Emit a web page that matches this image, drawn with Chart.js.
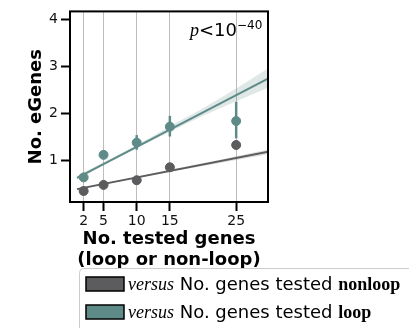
<!DOCTYPE html>
<html>
<head>
<meta charset="utf-8">
<script src="https://cdn.jsdelivr.net/npm/chart.js@4.4.1/dist/chart.umd.min.js"></script>
<style>
  html, body { margin: 0; padding: 0; background: #fff; }
</style>
</head>
<body>
<canvas id="chart" width="409" height="328"></canvas>
<script>
// tested genes per bin (x) and mean eGenes with 95% CI
const geneCounts = [2, 5, 10, 15, 25];
const loopMean = [0.63, 1.11, 1.37, 1.71, 1.83];
const loopLow = [0.58, 1.05, 1.22, 1.50, 1.46];
const loopHigh = [0.68, 1.17, 1.53, 1.94, 2.24];
const nonloopMean = [0.34, 0.47, 0.57, 0.845, 1.32];
const nonloopLow = [0.31, 0.44, 0.54, 0.81, 1.27];
const nonloopHigh = [0.37, 0.50, 0.60, 0.88, 1.37];

// regression fits
const fitX = [1, 30];
const loopFit = [0.62, 2.75];
const nonloopFit = [0.38, 1.18];
const bandX = [1, 5, 10, 15, 20, 25, 30];
const loopBandLow = [0.58, 0.89, 1.25, 1.60, 1.94, 2.25, 2.55];
const loopBandHigh = [0.66, 0.95, 1.32, 1.72, 2.10, 2.52, 2.97];
const nonloopBandLow = [0.36, 0.475, 0.615, 0.75, 0.87, 1.00, 1.13];
const nonloopBandHigh = [0.40, 0.505, 0.645, 0.79, 0.93, 1.08, 1.23];

const yTicks = [1, 2, 3, 4];
const legendNames = ["nonloop", "loop"];

const teal = "#5e8b88";
const gray = "#5c5b5d";

const pts = (xs, ys) => xs.map((v, i) => ({ x: v, y: ys[i] }));

const extras = {
  id: "extras",
  beforeDatasetsDraw(chart) {
    const { ctx, scales: { x, y } } = chart;
    ctx.save();
    ctx.lineWidth = 2.5;
    [[nonloopLow, nonloopHigh, gray], [loopLow, loopHigh, teal]].forEach(([lo, hi, c]) => {
      ctx.strokeStyle = c;
      geneCounts.forEach((g, i) => {
        const px = x.getPixelForValue(g);
        ctx.beginPath();
        ctx.moveTo(px, y.getPixelForValue(lo[i]));
        ctx.lineTo(px, y.getPixelForValue(hi[i]));
        ctx.stroke();
      });
    });
    ctx.restore();
  },
  afterDraw(chart) {
    const { ctx, chartArea: a } = chart;
    ctx.save();
    ctx.strokeStyle = "#000";
    ctx.lineWidth = 2;
    ctx.strokeRect(a.left, a.top, a.right - a.left, a.bottom - a.top);

    // p-value note
    ctx.fillStyle = "#000";
    ctx.textBaseline = "alphabetic";
    ctx.font = 'italic 18px "Liberation Serif"';
    ctx.fillText("p", 190, 36);
    ctx.font = '18px "DejaVu Sans"';
    ctx.fillText("<", 199, 36);
    ctx.fillText("10", 214, 36);
    ctx.font = '12px "DejaVu Sans"';
    ctx.fillText("\u221240", 237, 29);

    // legend
    ctx.beginPath();
    ctx.roundRect(79.5, 268.5, 345, 70, 4);
    ctx.fillStyle = "rgba(255,255,255,0.9)";
    ctx.fill();
    ctx.strokeStyle = "#cccccc";
    ctx.lineWidth = 1;
    ctx.stroke();
    [[gray, 277, 290], [teal, 305, 318]].forEach(([c, top, base], i) => {
      ctx.fillStyle = c;
      ctx.fillRect(86, top, 38, 14);
      ctx.strokeStyle = "#000";
      ctx.lineWidth = 1.5;
      ctx.strokeRect(86, top, 38, 14);
      ctx.fillStyle = "#000";
      let tx = 128;
      ctx.font = 'italic 18px "Liberation Serif"';
      ctx.fillText("versus", tx, base);
      tx += ctx.measureText("versus").width;
      ctx.font = '18px "DejaVu Sans"';
      const mid = " No. genes tested ";
      ctx.fillText(mid, tx, base);
      tx += ctx.measureText(mid).width;
      ctx.font = 'bold 18px "Liberation Serif"';
      ctx.fillText(legendNames[i], tx, base);
    });
    ctx.restore();
  }
};

new Chart(document.getElementById("chart"), {
  type: "scatter",
  data: {
    datasets: [
      { data: pts(geneCounts, loopMean), backgroundColor: teal, borderColor: teal, pointRadius: 4.5, order: 0 },
      { data: pts(geneCounts, nonloopMean), backgroundColor: gray, borderColor: gray, pointRadius: 4.5, order: 0 },
      { data: pts(fitX, loopFit), showLine: true, borderColor: teal, borderWidth: 2, pointRadius: 0, order: 1 },
      { data: pts(fitX, nonloopFit), showLine: true, borderColor: gray, borderWidth: 2, pointRadius: 0, order: 1 },
      { data: pts(bandX, loopBandLow), showLine: true, borderWidth: 0, pointRadius: 0, order: 2 },
      { data: pts(bandX, loopBandHigh), showLine: true, borderWidth: 0, pointRadius: 0, fill: "-1",
        backgroundColor: "rgba(94,139,136,0.2)", tension: 0.3, order: 2 },
      { data: pts(bandX, nonloopBandLow), showLine: true, borderWidth: 0, pointRadius: 0, order: 2 },
      { data: pts(bandX, nonloopBandHigh), showLine: true, borderWidth: 0, pointRadius: 0, fill: "-1",
        backgroundColor: "rgba(92,91,93,0.2)", order: 2 }
    ]
  },
  options: {
    responsive: false,
    animation: false,
    devicePixelRatio: 1,
    layout: { padding: { left: 0, top: 11, right: 141, bottom: 57 } },
    plugins: { legend: { display: false }, tooltip: { enabled: false } },
    scales: {
      x: {
        type: "linear",
        min: -0.06,
        max: 29.8,
        afterFit: s => { s.height = 69; },
        afterBuildTicks: s => { s.ticks = geneCounts.map(v => ({ value: v })); },
        border: { display: false },
        grid: { color: "#bdbdbd", lineWidth: 1, tickLength: 9, tickColor: "#000", tickWidth: 2 },
        ticks: { color: "#111", font: { family: "DejaVu Sans", size: 14 }, padding: 2, maxRotation: 0 },
        title: {
          display: true,
          text: ["No. tested genes", "(loop or non-loop)"],
          color: "#000",
          font: { family: "DejaVu Sans", size: 18, weight: "bold", lineHeight: 1.12 },
          padding: { top: 4, bottom: 1 }
        }
      },
      y: {
        min: 0.106,
        max: 4.164,
        afterFit: s => { s.width = 70; },
        afterBuildTicks: s => { s.ticks = yTicks.map(v => ({ value: v })); },
        border: { display: false },
        grid: { drawOnChartArea: false, tickLength: 9, tickColor: "#000", tickWidth: 2 },
        ticks: { color: "#111", font: { family: "DejaVu Sans", size: 14 }, padding: 3 },
        title: {
          display: true,
          text: "No. eGenes",
          color: "#000",
          font: { family: "DejaVu Sans", size: 18, weight: "bold", lineHeight: 1.12 },
          padding: { top: 26, bottom: 0 }
        }
      }
    }
  },
  plugins: [extras]
});
</script>
</body>
</html>
